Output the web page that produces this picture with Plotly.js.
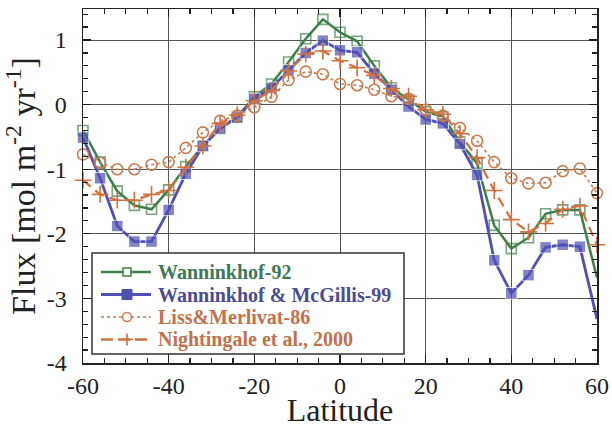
<!DOCTYPE html>
<html>
<head>
<meta charset="utf-8">
<script src="https://cdn.plot.ly/plotly-3.0.1.min.js"></script>
<style>html,body{margin:0;padding:0;background:#fff;}#chart{width:612px;height:428px;}</style>
</head>
<body>
<div id="chart"></div>
<script>
// Latitude grid (degrees)
const latitude = [-60,-56,-52,-48,-44,-40,-36,-32,-28,-24,-20,-16,-12,-8,-4,0,4,8,12,16,20,24,28,32,36,40,44,48,52,56,60];

// Flux [mol m-2 yr-1]
const wanninkhof92 = [-0.40,-0.89,-1.34,-1.56,-1.62,-1.32,-0.96,-0.64,-0.37,-0.19,0.12,0.32,0.66,1.02,1.32,1.12,0.98,0.60,0.26,0.07,-0.11,-0.19,-0.58,-0.91,-1.87,-2.23,-2.06,-1.69,-1.63,-1.63,-2.68];
const wanninkhofMcGillis99 = [-0.51,-1.14,-1.88,-2.12,-2.12,-1.63,-1.07,-0.64,-0.37,-0.20,0.09,0.26,0.53,0.80,0.99,0.84,0.81,0.48,0.23,-0.03,-0.23,-0.29,-0.61,-1.09,-2.41,-2.92,-2.64,-2.21,-2.17,-2.20,-3.32];
const lissMerlivat86 = [-0.77,-0.90,-1.00,-1.00,-0.93,-0.89,-0.67,-0.43,-0.25,-0.17,-0.04,0.12,0.38,0.51,0.47,0.32,0.30,0.23,0.13,0.09,-0.08,-0.17,-0.36,-0.56,-0.89,-1.14,-1.22,-1.21,-1.03,-0.99,-1.37];
const nightingale2000 = [-1.17,-1.39,-1.48,-1.48,-1.39,-1.33,-0.97,-0.64,-0.29,-0.16,0.06,0.22,0.52,0.78,0.83,0.68,0.57,0.45,0.25,0.13,-0.08,-0.15,-0.45,-0.82,-1.33,-1.78,-1.97,-1.84,-1.62,-1.57,-2.17];

const seriesNames = ['Wanninkhof-92','Wanninkhof &amp; McGillis-99','Liss&amp;Merlivat-86','Nightingale et al., 2000'];
const xTicks = [-60,-40,-20,0,20,40,60];
const yTicks = [-4,-3,-2,-1,0,1];

const cGreen = '#3d8048', cBlue = '#5050b4', cLiss = '#c97c52', cNight = '#d2703e';
const tGreen = '#3e7858', tBlue = '#4c4c94', tOrange = '#c2714c';

// last point at the edge has no visible marker for the Wanninkhof series
const edgeSizes = (s) => latitude.map((x, i) => i === latitude.length - 1 ? 0 : s);

const traces = [
  {x: latitude, y: wanninkhof92, mode: 'lines+markers', name: seriesNames[0],
   line: {color: cGreen, width: 2.5},
   marker: {symbol: 'square-open', size: edgeSizes(10), color: cGreen, line: {width: 1.6, color: cGreen}},
   cliponaxis: false},
  {x: latitude, y: wanninkhofMcGillis99, mode: 'lines+markers', name: seriesNames[1],
   line: {color: cBlue, width: 2.8},
   marker: {symbol: 'square', size: edgeSizes(11.5), color: cBlue},
   cliponaxis: false},
  {x: latitude, y: lissMerlivat86, mode: 'lines+markers', name: seriesNames[2],
   line: {color: cLiss, width: 1.6, dash: 'dot'},
   marker: {symbol: 'circle-open', size: 11, color: cLiss, line: {width: 1.6, color: cLiss}},
   cliponaxis: false},
  {x: latitude, y: nightingale2000, mode: 'lines+markers', name: seriesNames[3],
   line: {color: cNight, width: 2.2, dash: '10px,6px'},
   marker: {symbol: 'cross-thin-open', size: 12, color: cNight, line: {width: 1.6, color: cNight}},
   cliponaxis: false}
];

// ---- legend box drawn as layout decoration (pixel -> paper helpers) ----
const M = {l: 83, r: 15, t: 9, b: 65}, W = 612, H = 428;
const PW = W - M.l - M.r, PH = H - M.t - M.b;
const px = p => (p - M.l) / PW;
const py = p => (H - M.b - p) / PH;
const legRows = [272, 294.5, 317, 339.5];
const legColors = [tGreen, tBlue, tOrange, tOrange];
const lineStyles = [
  {color: cGreen, width: 2.5},
  {color: cBlue, width: 2.8},
  {color: cLiss, width: 1.6, dash: 'dot'},
  {color: cNight, width: 2.4, dash: '12px,5px'}
];

const shapes = [
  {type: 'rect', xref: 'paper', yref: 'paper', x0: px(92), x1: px(404), y0: py(354), y1: py(253),
   fillcolor: '#ffffff', line: {color: '#333', width: 1.5}, layer: 'above'}
];
legRows.forEach((r, i) => {
  shapes.push({type: 'line', xref: 'paper', yref: 'paper', x0: px(101), x1: px(151), y0: py(r), y1: py(r),
    line: lineStyles[i], layer: 'above'});
});
const mk = (type, i, half, fill, lineW, color) => ({type: type, xref: 'paper', yref: 'paper',
  xsizemode: 'pixel', ysizemode: 'pixel', xanchor: px(127), yanchor: py(legRows[i]),
  x0: -half, x1: half, y0: -half, y1: half, fillcolor: fill, line: {color: color, width: lineW}, layer: 'above'});
shapes.push(mk('rect', 0, 4, '#ffffff', 1.5, cGreen));
shapes.push(mk('rect', 1, 5, cBlue, 1, cBlue));
shapes.push(mk('circle', 2, 4.5, '#ffffff', 1.5, cLiss));
// plus sign for Nightingale (horizontal bar given by the dashed sample line)
shapes.push({type: 'line', xref: 'paper', yref: 'paper', xsizemode: 'pixel', ysizemode: 'pixel',
  xanchor: px(127), yanchor: py(legRows[3]), x0: 0, x1: 0, y0: -6, y1: 6, line: {color: cNight, width: 1.6}, layer: 'above'});
shapes.push({type: 'line', xref: 'paper', yref: 'paper', xsizemode: 'pixel', ysizemode: 'pixel',
  xanchor: px(127), yanchor: py(legRows[3]), x0: -6, x1: 6, y0: 0, y1: 0, line: {color: cNight, width: 1.6}, layer: 'above'});

const annotations = seriesNames.map((n, i) => ({
  xref: 'paper', yref: 'paper', x: px(156), y: py(legRows[i]), xanchor: 'left', yanchor: 'middle',
  text: '<b>' + n + '</b>', showarrow: false,
  font: {family: 'Liberation Serif, Times New Roman, serif', size: 20, color: legColors[i]}
}));

const axisFont = {family: 'Liberation Serif, Times New Roman, serif', size: 24, color: '#222'};

const layout = {
  width: W, height: H,
  margin: M,
  paper_bgcolor: '#ffffff', plot_bgcolor: '#ffffff',
  showlegend: false,
  shapes: shapes,
  annotations: annotations,
  xaxis: {
    range: [-60, 60], tickvals: xTicks, ticktext: xTicks.map(String),
    showgrid: true, gridcolor: '#555', gridwidth: 1, zeroline: false,
    showline: true, linecolor: '#222', linewidth: 1.5, mirror: 'allticks',
    ticks: 'inside', ticklen: 8, tickcolor: '#222', tickwidth: 1.2,
    minor: {dtick: 5, ticks: 'inside', ticklen: 5, tickcolor: '#222', showgrid: false},
    tickfont: axisFont, ticklabelstandoff: 1,
    title: {text: 'Latitude', font: {family: 'Liberation Serif, Times New Roman, serif', size: 32, color: '#222'}, standoff: 6},
    automargin: false
  },
  yaxis: {
    range: [-4, 1.48], tickvals: yTicks, ticktext: yTicks.map(String),
    showgrid: true, gridcolor: '#555', gridwidth: 1, zeroline: false,
    showline: true, linecolor: '#222', linewidth: 1.5, mirror: 'allticks',
    ticks: 'inside', ticklen: 8, tickcolor: '#222', tickwidth: 1.2,
    minor: {dtick: 0.2, ticks: 'inside', ticklen: 5, tickcolor: '#222', showgrid: false},
    tickfont: axisFont, ticklabelstandoff: 10,
    title: {text: 'Flux [mol m<sup>-2</sup> yr<sup>-1</sup>]', font: {family: 'Liberation Serif, Times New Roman, serif', size: 34, color: '#222'}, standoff: 4},
    automargin: false
  }
};

Plotly.newPlot('chart', traces, layout, {displayModeBar: false, staticPlot: true});
</script>
</body>
</html>
